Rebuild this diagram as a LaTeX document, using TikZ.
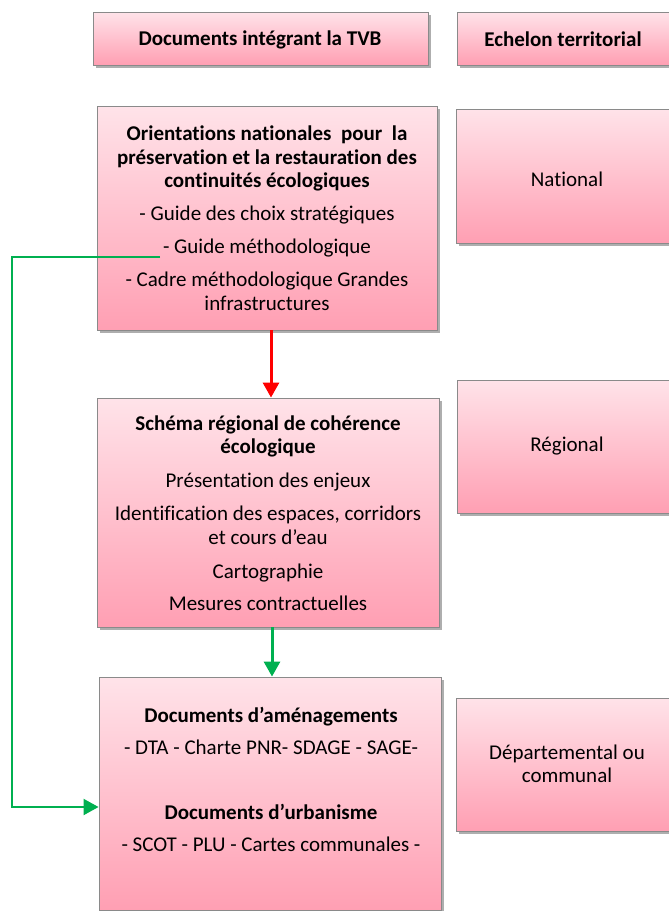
\documentclass[tikz,border=0pt]{standalone}
\usepackage{fontspec}
\setmainfont{Carlito}[Ligatures=CommonOff]
\usetikzlibrary{shadows,arrows.meta}
\definecolor{pinktop}{HTML}{FFE3E9}
\definecolor{pinkbot}{HTML}{FF9FB3}
\definecolor{boxline}{HTML}{8A8A8A}
\definecolor{arrgreen}{HTML}{00B050}
\tikzset{
  pinkbox/.style={rectangle, draw=boxline, line width=0.9pt, top color=pinktop, bottom color=pinkbot,
    drop shadow={shadow xshift=2.5pt, shadow yshift=-3pt, opacity=0.45, fill=black!70},
    inner sep=0pt},
  txt/.style={align=center, inner sep=0pt, font=\fontsize{21}{23.5}\selectfont},
  redarrow/.style={draw=red, line width=3pt, -{Triangle[width=16pt,length=15pt]}},
  grnarrow/.style={draw=arrgreen, line width=3pt, -{Triangle[width=16pt,length=15pt]}},
  grnline/.style={draw=arrgreen, line width=2pt, -{Triangle[width=16pt,length=15pt]}}
}
\begin{document}
\begin{tikzpicture}[x=1pt,y=-1pt]
\useasboundingbox[fill=white] (0,0) rectangle (669,911);
% headers
\node[pinkbox, minimum width=335pt, minimum height=53pt] (h1) at (260.5,38.5) {};
\node[txt, font=\fontsize{21}{23.5}\selectfont\bfseries] (h1t) at (260,39.5) {Documents intégrant la TVB};
\node[pinkbox, minimum width=228pt, minimum height=53pt] (h2) at (571,38.5) {};
\node[txt, font=\fontsize{21}{23.5}\selectfont\bfseries] (h2t) at (563,39.5) {Echelon territorial};
% main boxes
\node[pinkbox, minimum width=340pt, minimum height=224pt] (b1) at (267,218) {};
\node[txt] (b1t) at (267,218) {\textbf{Orientations nationales \ pour \ la}\\ \textbf{préservation et la restauration des}\\ \textbf{continuités écologiques}\\[9.5pt]
- Guide des choix stratégiques\\[9pt] - Guide méthodologique\\[10pt] - Cadre méthodologique Grandes\\ infrastructures};
\node[pinkbox, minimum width=342pt, minimum height=229pt] (b2) at (268,512.5) {};
\node[txt] (b2t) at (268,513) {\textbf{Schéma régional de cohérence}\\ \textbf{écologique}\\[10.5pt]
Présentation des enjeux\\[9.5pt] Identification des espaces, corridors\\ et cours d’eau\\[10.5pt] Cartographie\\[9pt] Mesures contractuelles};
\node[pinkbox, minimum width=342pt, minimum height=233pt] (b3) at (270,793.5) {};
\node[txt] (b3t) at (271,779.5) {\textbf{Documents d’aménagements}\\[8.5pt] - DTA - Charte PNR- SDAGE - SAGE-\\[41.5pt]
\textbf{Documents d’urbanisme}\\[8.5pt] - SCOT - PLU - Cartes communales -};
% level boxes
\node[pinkbox, minimum width=228pt, minimum height=134pt] (n1) at (570,176) {};
\node[txt] (n1t) at (567,179) {National};
\node[pinkbox, minimum width=227pt, minimum height=133pt] (n2) at (570.5,446.5) {};
\node[txt] (n2t) at (567,446) {Régional};
\node[pinkbox, minimum width=228pt, minimum height=133pt] (n3) at (570,764.5) {};
\node[txt] (n3t) at (567,764) {Départemental ou\\ communal};
% connectors
\draw[redarrow] ([xshift=4pt]b1.south) -- ([xshift=3pt]b2.north);
\draw[grnarrow] ([xshift=4pt]b2.south) -- ([xshift=2pt]b3.north);
\coordinate (gs) at (160,257);
\draw[grnline] (gs) -- ++(-148,0) |- ([yshift=-13.5pt]b3.west);
\end{tikzpicture}
\end{document}
